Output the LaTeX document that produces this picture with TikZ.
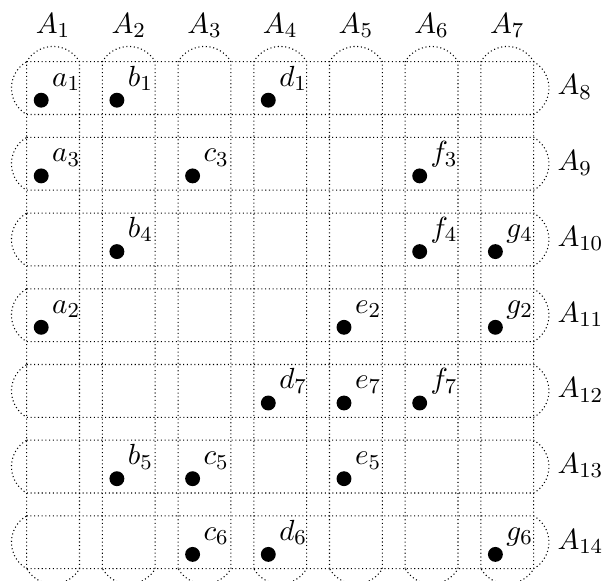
\documentclass[tikz,border=0pt]{standalone}
\begin{document}
\begin{tikzpicture}[x=0.3758pt,y=-0.3758pt,
  every node/.style={font=\fontsize{10.95pt}{13pt}\selectfont},
  outline/.style={densely dotted, line width=0.4pt},
  dotnode/.style={circle, fill=black, inner sep=0pt, minimum size=5.6pt},
  dotlab/.style={anchor=base west, inner sep=0pt},
  setlab/.style={inner sep=0pt}]
\useasboundingbox (0,0) rectangle (603,581);
% columns A1..A7
\foreach \i in {1,...,7} {
  \pgfmathsetmacro\L{26.7+(\i-1)*75.7}
  \pgfmathsetmacro\R{\L+52.8}
  \pgfmathsetmacro\M{\L+26.4}
  \draw[outline] (\L,568.7) -- (\L,61.7)
     arc[start angle=210,end angle=330,radius=30.48] -- (\R,568.7)
     arc[start angle=30,end angle=150,radius=30.48] -- cycle;
  \pgfmathtruncatemacro\k{\i}
  \node[setlab, anchor=base] (A\k) at (\M,33.5) {$A_{\k}$};
}
% rows A8..A14
\foreach \j in {1,...,7} {
  \pgfmathsetmacro\T{61.7+(\j-1)*75.7}
  \pgfmathsetmacro\B{\T+52.8}
  \pgfmathsetmacro\Y{\T+33.3}
  \draw[outline] (26.7,\T) -- (533.7,\T)
     arc[start angle=-60,end angle=60,radius=30.48] -- (26.7,\B)
     arc[start angle=120,end angle=240,radius=30.48] -- cycle;
  \pgfmathtruncatemacro\k{\j+7}
  \node[setlab, anchor=base west] (A\k) at (557,\Y) {$A_{\k}$};
}
% points
\foreach \n/\s/\c/\r in {a/1/1/1, b/1/2/1, d/1/4/1,
                          a/3/1/2, c/3/3/2, f/3/6/2,
                          b/4/2/3, f/4/6/3, g/4/7/3,
                          a/2/1/4, e/2/5/4, g/2/7/4,
                          d/7/4/5, e/7/5/5, f/7/6/5,
                          b/5/2/6, c/5/3/6, e/5/5/6,
                          c/6/3/7, d/6/4/7, g/6/7/7} {
  \pgfmathsetmacro\X{26.7+(\c-1)*75.7+14.5}
  \pgfmathsetmacro\Y{61.7+(\r-1)*75.7+38.5}
  \node[dotnode] (p\n\s) at (\X,\Y) {};
  \node[dotlab] (l\n\s) at ([shift={(10.5,-14)}]p\n\s.center) {$\n_{\s}$};
}
\end{tikzpicture}
\end{document}
